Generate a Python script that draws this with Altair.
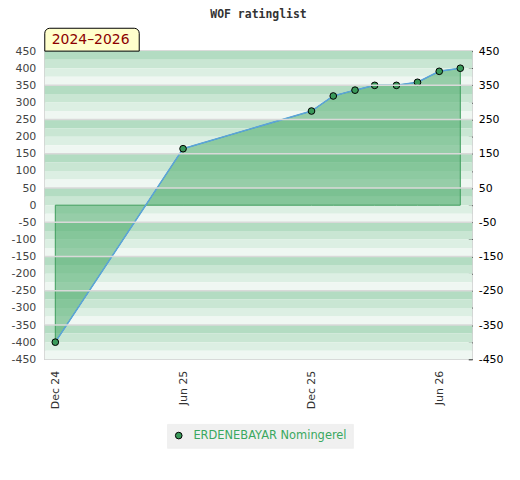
import altair as alt
import pandas as pd

# ---- data ----
dates = ["2024-12-01", "2025-06-01", "2025-12-01", "2026-01-01", "2026-02-01",
         "2026-03-01", "2026-04-01", "2026-05-01", "2026-06-01", "2026-07-01"]
ratings = [-400, 165, 275, 319, 336, 350, 350, 359, 391, 400]
player = "ERDENEBAYAR Nomingerel"
title_text = "WOF ratinglist"
period_text = "2024–2026"
x_tick_dates = [(2024, 12), (2025, 6), (2025, 12), (2026, 6)]
y_min, y_max = -450, 450

W, H = 430, 310

df = pd.DataFrame({"date": [d + "T00:00:00" for d in dates],
                   "rating": ratings,
                   "player": [player] * len(dates)})

# background stripes (25 units each, 4-shade cycle)
band_colors = ["#b3dcc2", "#c9e6d3", "#dcefe3", "#eff7f2"]
tops = list(range(y_max, y_min, -25))
bands = pd.DataFrame({"top": tops,
                      "bottom": [t - 25 for t in tops],
                      "fillcol": [band_colors[((y_max - t) // 25) % 4] for t in tops]})
grid_vals = pd.DataFrame({"v": list(range(350, -351, -100))})
tick_vals = list(range(y_min, y_max + 1, 50))

x_scale = alt.Scale(domain=[alt.DateTime(year=2024, month=11, date=16),
                            alt.DateTime(year=2026, month=7, date=18)])
y_scale = alt.Scale(domain=[y_min, y_max], nice=False, zero=False)

x_axis = alt.Axis(values=[alt.DateTime(year=y, month=m, date=1) for y, m in x_tick_dates],
                  format="%b %y", labelAngle=270, ticks=False, domain=False, grid=False,
                  labelPadding=11, labelFont="DejaVu Sans", labelFontSize=11,
                  labelColor="#333333", title=None)

left_axis = alt.Axis(values=tick_vals, ticks=False, labelOverlap=False,
                     labelExpr="'' + datum.value",
                     domain=False, grid=False, labelPadding=9,
                     labelFont="DejaVu Sans", labelFontSize=11,
                     labelColor="#444444", title=None)

base = alt.Chart(df)

band_layer = alt.Chart(bands).mark_rect().encode(
    x=alt.value(0), x2=alt.value(W),
    y=alt.Y("top:Q", scale=y_scale, axis=left_axis),
    y2="bottom:Q",
    fill=alt.Fill("fillcol:N", scale=None),
)

area_layer = base.mark_area(fill="#4cab6c", fillOpacity=0.55, stroke="#3d9c5c",
                            strokeWidth=1).encode(
    x=alt.X("date:T", scale=x_scale, axis=x_axis),
    y=alt.Y("rating:Q", scale=y_scale, axis=left_axis),
    y2=alt.datum(0),
)

line_layer = base.mark_line(color="#5ba3dc", strokeWidth=1.5).encode(
    x=alt.X("date:T", scale=x_scale, axis=x_axis),
    y=alt.Y("rating:Q", scale=y_scale, axis=left_axis),
)

point_layer = base.mark_circle(size=45, stroke="black", strokeWidth=1, opacity=1).encode(
    x=alt.X("date:T", scale=x_scale, axis=x_axis),
    y=alt.Y("rating:Q", scale=y_scale, axis=left_axis),
    color=alt.Color("player:N", scale=alt.Scale(range=["#3a9a5a"]),
                    legend=alt.Legend(title=None, orient="none", legendX=123, legendY=375,
                                      padding=6, fillColor="#f0f0f0", strokeColor="#f0f0f0",
                                      symbolType="circle", symbolSize=45,
                                      symbolStrokeColor="black", symbolStrokeWidth=1,
                                      symbolFillColor="#3a9a5a", symbolOpacity=1,
                                      labelOffset=9, labelLimit=400,
                                      labelFont="DejaVu Sans", labelFontSize=11.5,
                                      labelColor="#3aa860")),
)

left_group = alt.layer(band_layer, area_layer, line_layer, point_layer)

grid_layer = alt.Chart(grid_vals).mark_rule(color="#d9d9d9", strokeWidth=1.5).encode(
    y=alt.Y("v:Q", scale=y_scale,
            axis=alt.Axis(orient="right", values=tick_vals, tickSize=4, offset=-4,
                          tickColor="black", domain=False, grid=False, labelPadding=6,
                          labelOverlap=False,
                          labelExpr="(datum.value + 450) % 100 == 0 ? '' + datum.value : ''",
                          labelFont="DejaVu Sans", labelFontSize=11, labelColor="black",
                          title=None)),
)

title_layer = alt.Chart(pd.DataFrame({"t": [title_text]})).mark_text(
    font="DejaVu Sans Mono", fontSize=11.5, fontWeight="bold", color="#333333",
    align="center", baseline="middle").encode(
    text="t:N", x=alt.value(W / 2), y=alt.value(-36))

box_layer = alt.Chart(pd.DataFrame({"t": [period_text]})).mark_rect(
    fill="#ffffcc", stroke="black", strokeWidth=1,
    cornerRadiusTopLeft=5, cornerRadiusTopRight=5).encode(
    x=alt.value(0), x2=alt.value(95), y=alt.value(-23), y2=alt.value(0))

box_text = alt.Chart(pd.DataFrame({"t": [period_text]})).mark_text(
    font="DejaVu Sans", fontSize=14, color="#8b0000", align="left",
    baseline="middle").encode(
    text="t:N", x=alt.value(7), y=alt.value(-11))

chart = alt.layer(left_group, grid_layer, box_layer, box_text, title_layer).resolve_scale(
    y="independent"
).properties(
    width=W, height=H,
    autosize=alt.AutoSizeParams(type="none"),
    padding={"left": 37, "top": 42, "right": 40, "bottom": 110},
).configure_view(stroke="#d0d0d0", strokeWidth=1.5)

chart.save("out.html", embed_options={"renderer": "svg", "actions": False})
